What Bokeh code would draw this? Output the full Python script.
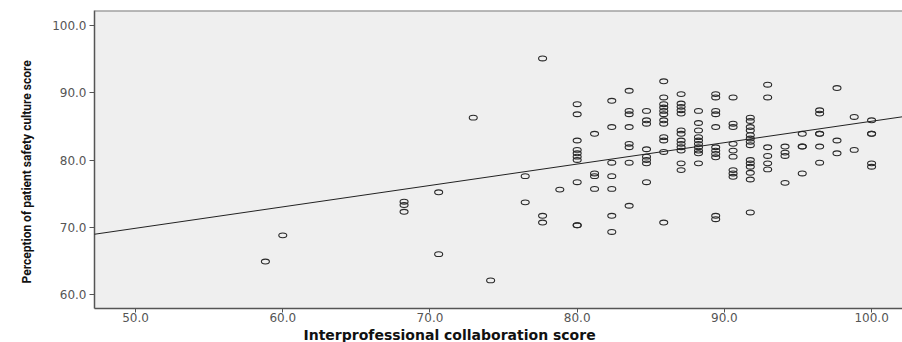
from bokeh.plotting import figure
from bokeh.models import Range1d, FixedTicker, PrintfTickFormatter, Slope, Span, Title
from bokeh.embed import file_html
from bokeh.resources import INLINE

# ---- data ----
collab_score = (
    [58.82, 60.00, 68.24, 68.24, 68.24, 70.59, 70.59, 72.94, 74.12,
     76.47, 76.47, 77.65, 77.65, 77.65, 78.82]
    + [80.00] * 10 + [81.18] * 4 + [82.35] * 7 + [83.53] * 8 + [84.71] * 8
    + [85.88] * 12 + [87.06] * 13 + [88.24] * 10 + [89.41] * 11 + [90.59] * 9
    + [91.76] * 14 + [92.94] * 6 + [94.12] * 4 + [95.29] * 4 + [96.47] * 6
    + [97.65] * 3 + [98.82] * 2 + [100.00] * 5
)
safety_score = (
    [64.9, 68.8, 73.8, 73.3, 72.3, 75.2, 66.0, 86.3, 62.1,
     77.6, 73.7, 95.1, 71.7, 70.7, 75.6]
    + [88.3, 86.8, 82.9, 81.5, 81.0, 80.5, 80.0, 76.7, 70.3, 70.3]
    + [83.9, 78.0, 77.6, 75.7]
    + [88.8, 84.9, 79.6, 77.6, 75.7, 71.7, 69.3]
    + [90.3, 87.3, 86.8, 84.9, 82.4, 81.9, 79.6, 73.2]
    + [87.3, 85.9, 85.4, 81.6, 80.5, 80.0, 79.5, 76.7]
    + [91.7, 89.3, 88.3, 87.8, 87.3, 86.8, 85.9, 85.4, 83.4, 82.9, 81.2, 70.7]
    + [89.8, 88.4, 87.9, 87.4, 86.9, 84.4, 83.9, 82.9, 82.4, 81.9, 81.4, 79.5, 78.5]
    + [87.3, 85.5, 84.4, 83.4, 82.9, 82.4, 81.9, 81.4, 81.0, 79.5]
    + [89.8, 89.3, 87.3, 86.8, 84.9, 81.9, 81.4, 80.9, 80.4, 71.7, 71.2]
    + [89.3, 85.4, 84.9, 82.4, 81.4, 80.5, 78.5, 78.0, 77.5]
    + [86.3, 85.8, 84.9, 84.4, 83.7, 83.2, 82.7, 82.2, 80.0, 79.5, 79.0, 78.1, 77.1, 72.2]
    + [91.2, 89.3, 81.9, 80.6, 79.5, 78.6]
    + [82.0, 81.1, 80.6, 76.6]
    + [83.9, 82.0, 82.0, 78.0]
    + [87.4, 86.9, 83.9, 83.9, 82.0, 79.6]
    + [90.7, 82.9, 81.0]
    + [86.4, 81.5]
    + [85.9, 83.9, 83.9, 79.5, 79.0]
)
fit_intercept = 53.94
fit_slope = 0.3182
x_ticks = [50, 60, 70, 80, 90, 100]
y_ticks = [60, 70, 80, 90, 100]
x_title = "Interprofessional collaboration score"
y_title = "Perception of patient safety culture score"

X0, X1 = 47.21, 102.1
Y0, Y1 = 57.92, 102.23

p = figure(width=902, height=342,
           x_range=Range1d(X0, X1), y_range=Range1d(Y0, Y1),
           output_backend="svg", toolbar_location=None,
           min_border_left=94, min_border_top=10, min_border_right=0,
           min_border_bottom=33)
p.background_fill_color = "#efefef"
p.border_fill_color = "white"
p.outline_line_color = None
p.grid.visible = False

for ax, ticks in ((p.xaxis, x_ticks), (p.yaxis, y_ticks)):
    ax.ticker = FixedTicker(ticks=ticks)
    ax.formatter = PrintfTickFormatter(format="%.1f")
    ax.axis_line_color = "#555555"
    ax.axis_line_width = 1.5
    ax.major_tick_line_color = "#555555"
    ax.major_tick_in = 0
    ax.minor_tick_line_color = None
    ax.major_label_text_font = "DejaVu Sans"
    ax.major_label_text_font_size = "12px"
    ax.major_label_text_color = "#555555"
p.xaxis.major_tick_out = 4
p.xaxis.major_label_standoff = 0
p.yaxis.major_tick_out = 5
p.yaxis.major_label_standoff = 3

p.add_layout(Span(location=Y1, dimension="width", line_color="#7a7a7a", line_width=2))

p.ellipse(x=collab_score, y=safety_score, width=8, height=4.8,
          width_units="screen", height_units="screen",
          fill_color=None, line_color="#2a2a2a", line_width=1.1)

p.add_layout(Slope(gradient=fit_slope, y_intercept=fit_intercept,
                   line_color="#222222", line_width=1))

p.add_layout(Title(text=x_title, align="left", offset=209, standoff=0,
                   text_font="DejaVu Sans", text_font_size="14px",
                   text_font_style="bold", text_color="#111111"), "below")
p.add_layout(Title(text=y_title, align="left", offset=25, standoff=32,
                   text_font="Roboto", text_font_size="12px",
                   text_font_style="bold", text_color="#111111"), "left")

open("out.html", "w").write(file_html(p, INLINE))
